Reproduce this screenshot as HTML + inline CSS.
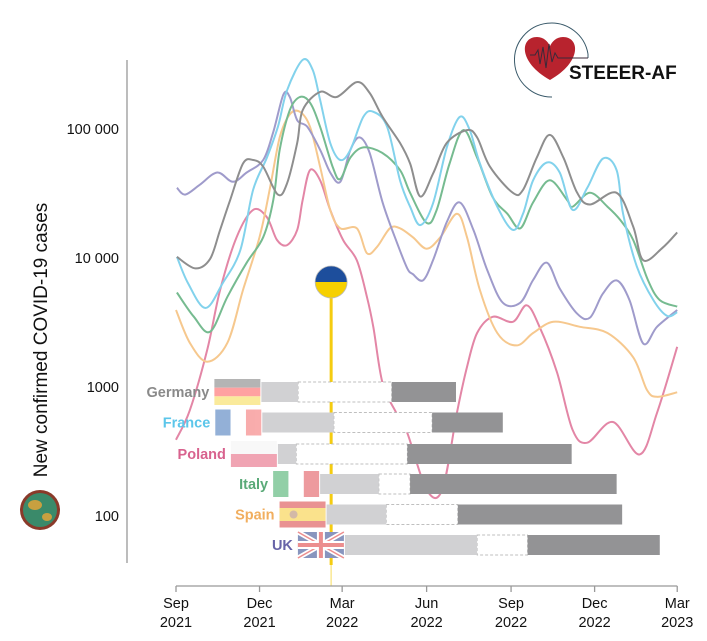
<!DOCTYPE html>
<html><head><meta charset="utf-8">
<style>
html,body{margin:0;padding:0;background:#fff;}
svg{display:block;font-family:"Liberation Sans",Arial,sans-serif;}
</style></head>
<body>
<svg id="chart" width="707" height="641" viewBox="0 0 707 641" xmlns="http://www.w3.org/2000/svg">
  <g id="lines"></g>
  <g id="ukr"></g>
  <g id="bars"></g>
  <g id="axes"></g>
  <text transform="translate(47,340) rotate(-90)" text-anchor="middle" font-size="19" fill="#111">New confirmed COVID-19 cases</text>
  <g>
    <path d="M 588 54 A 37 37 0 1 0 552 97" fill="none" stroke="#3a5a6a" stroke-width="1"/>
    <line x1="588" y1="54" x2="588" y2="58" stroke="#3a5a6a" stroke-width="1"/>
    <path d="M 550 80 C 518 62 520 37 537 37 C 544 37 548 42 550 46 C 552 42 556 37 563 37 C 580 37 582 62 550 80 Z" fill="#b8232e"/>
    <polyline points="530,55 535,55 538,50 540,64 543,47 546,68 549,44 552,62 555,53 558,58 572,58 588,58" fill="none" stroke="#3a2a3a" stroke-width="1"/>
    <text x="569" y="79" font-size="19" font-weight="bold" fill="#111">STEEER-AF</text>
  </g>
  <g>
    <circle cx="40" cy="510" r="20" fill="#8a3a2a"/>
    <circle cx="40" cy="510" r="17" fill="#3a8a6a"/>
    <ellipse cx="35" cy="505" rx="7" ry="5" fill="#c8a040"/>
    <ellipse cx="47" cy="517" rx="5" ry="4" fill="#c8a040"/>
  </g>
</svg>
<script>
const NS="http://www.w3.org/2000/svg";
const tickLabels=[["Sep","2021"],["Dec","2021"],["Mar","2022"],["Jun","2022"],["Sep","2022"],["Dec","2022"],["Mar","2023"]];
const tickDays=[0,91,181,273,365,456,546];
const yTicks=[100,1000,10000,100000];
const yTickLabels=["100","1000","10 000","100 000"];
const names=["Poland","Spain","UK","Italy","France","Germany"];
const colors=["#e386a6","#f6c88e","#9f9bcb","#76bb90","#82d2ec","#8e8e8e"];
const polandDays=[0,15,34,48,66,84,99,110,121,132,138,146,157,168,182,197,208,215,225,240,252,273,290,306,317,328,345,367,382,396,415,432,448,476,505,524,546];
const polandVals=[390,660,1940,5650,14500,23600,20700,13800,12600,16500,28200,48000,40000,23600,13800,9600,5000,2900,1070,630,440,160,160,630,1430,2620,3500,3200,4300,2930,1300,465,370,535,300,630,2050];
const spainDays=[0,15,34,56,73,91,102,113,124,135,146,157,168,179,197,208,219,233,244,258,273,288,306,317,331,350,371,389,411,440,470,498,513,524,546];
const spainVals=[3950,2200,1570,2200,5650,14500,33700,86000,130000,136000,104000,51000,23600,17000,17000,10900,12200,17000,17000,14500,11800,14500,22000,14500,5650,2620,2100,2620,3200,2930,2620,1700,950,840,910];
const ukDays=[1,10,26,45,62,77,95,106,117,124,132,143,157,168,179,190,200,211,225,241,252,258,269,280,295,309,324,339,356,375,389,404,418,437,451,465,480,494,509,524,546];
const ukVals=[35000,31000,37000,46000,39000,46000,57500,95000,185000,177000,117000,104000,69000,46000,39000,69000,86000,65000,27000,13000,8300,7500,6700,9600,19000,27000,16500,8070,4500,4500,6750,9200,5800,3700,3450,5300,6700,4720,2170,2930,3950];
const italyDays=[1,19,37,56,77,95,106,113,124,135,146,157,171,179,190,204,225,244,255,273,284,298,313,328,345,361,375,389,407,426,432,451,470,484,498,514,527,546];
const italyVals=[5400,3540,2680,5000,9200,14500,28200,69000,140000,177000,160000,104000,50000,41000,60000,72000,65000,48000,32000,18700,23600,54000,98000,60000,29600,22000,17000,27000,40000,28200,25000,32000,25000,19700,13800,6750,4720,4200];
const franceDays=[1,13,32,51,70,84,99,111,121,138,149,157,168,179,190,204,215,230,244,255,266,280,295,309,320,331,350,367,378,389,404,418,432,448,465,480,487,502,520,535,546];
const franceVals=[10200,6400,4100,6400,11500,33700,60000,104000,200000,343000,286000,168000,78000,57500,69000,124000,136000,104000,40000,25000,18000,26500,72000,124000,98000,54000,25000,16500,22000,40000,55000,46000,23600,35000,59000,48000,22000,8600,4720,3560,3800];
const germanyDays=[1,21,37,48,59,73,84,95,111,121,132,138,157,175,197,211,225,244,255,266,280,295,317,328,342,367,378,393,407,422,437,451,480,498,509,530,546];
const germanyVals=[10200,8300,9800,16500,28200,54000,57500,51000,31000,38000,78000,140000,194000,177000,231000,190000,124000,78000,54000,30000,45000,78000,98000,86000,51000,32000,33700,60000,90000,60000,32000,26000,32000,17500,9600,12000,15800];
const seriesDays=[polandDays,spainDays,ukDays,italyDays,franceDays,germanyDays];
const seriesVals=[polandVals,spainVals,ukVals,italyVals,franceVals,germanyVals];
const barCountries=["Germany","France","Poland","Italy","Spain","UK"];
const barLabelColors=["#8a8a8a","#5cc6ea","#d8628e","#5aaa78","#f1ae5e","#6864a8"];
const lightStart=[93,94,111,157,164,184];
const lightEnd=[133,172,131,221,229,328];
const darkStart=[235,279,252,255,307,383];
const darkEnd=[305,356,431,480,486,527];
const invasionDay=169;

const x=d=>176+d*0.918;
const y=v=>774-129*Math.log10(v);
function el(tag,attrs,parent){const e=document.createElementNS(NS,tag);for(const k in attrs)e.setAttribute(k,attrs[k]);parent.appendChild(e);return e;}
function smooth(pts){let d="M"+pts[0][0].toFixed(1)+","+pts[0][1].toFixed(1);
 for(let i=0;i<pts.length-1;i++){const p0=pts[Math.max(0,i-1)],p1=pts[i],p2=pts[i+1],p3=pts[Math.min(pts.length-1,i+2)];
 const c1=[p1[0]+(p2[0]-p0[0])/6,p1[1]+(p2[1]-p0[1])/6],c2=[p2[0]-(p3[0]-p1[0])/6,p2[1]-(p3[1]-p1[1])/6];
 d+=" C"+c1.map(n=>n.toFixed(1))+" "+c2.map(n=>n.toFixed(1))+" "+p2.map(n=>n.toFixed(1));}return d;}

const lines=document.getElementById('lines');
names.forEach((n,i)=>{
 const pts=seriesDays[i].map((d,j)=>[x(d),y(seriesVals[i][j])]);
 const p=el('path',{d:smooth(pts),fill:'none',stroke:colors[i],'stroke-width':2},lines);
 
 
});

const ukr=document.getElementById('ukr');
const xi=x(invasionDay);
el('line',{x1:xi,x2:xi,y1:296,y2:586,stroke:'#f7d84a','stroke-width':1.5,opacity:0.6},ukr);
el('line',{x1:xi,x2:xi,y1:296,y2:565,stroke:'#f5cc10','stroke-width':3},ukr);
el('path',{d:`M${xi-16},282 A16,16 0 0 1 ${xi+16},282 Z`,fill:'#1d4e9c'},ukr);
el('path',{d:`M${xi-16},282 A16,16 0 0 0 ${xi+16},282 Z`,fill:'#f6d000'},ukr);
el('circle',{cx:xi,cy:282,r:16,fill:'none',stroke:'#bbb','stroke-width':0.8},ukr);

const bars=document.getElementById('bars');
const rowY=[392,422.5,454,484,514.5,545];
const flagW=46,flagH=26;
function flag(c,fx,fy,g){
 el('rect',{x:fx,y:fy,width:flagW,height:flagH,fill:'#fff'},g);
 const f=el('g',{opacity:0.55},g);
 if(c==="Germany"){el('rect',{x:fx,y:fy,width:flagW,height:flagH/3,fill:'#777'},f);el('rect',{x:fx,y:fy+flagH/3,width:flagW,height:flagH/3,fill:'#f55'},f);el('rect',{x:fx,y:fy+2*flagH/3,width:flagW,height:flagH/3,fill:'#f7d94a'},f);}
 else if(c==="France"){el('rect',{x:fx,y:fy,width:flagW/3,height:flagH,fill:'#3c70b8'},f);el('rect',{x:fx+flagW/3,y:fy,width:flagW/3,height:flagH,fill:'#fff'},f);el('rect',{x:fx+2*flagW/3,y:fy,width:flagW/3,height:flagH,fill:'#f46a6a'},f);}
 else if(c==="Poland"){el('rect',{x:fx,y:fy,width:flagW,height:flagH/2,fill:'#f4f4f4'},f);el('rect',{x:fx,y:fy+flagH/2,width:flagW,height:flagH/2,fill:'#e45a76'},f);}
 else if(c==="Italy"){el('rect',{x:fx,y:fy,width:flagW/3,height:flagH,fill:'#3aa860'},f);el('rect',{x:fx+flagW/3,y:fy,width:flagW/3,height:flagH,fill:'#fff'},f);el('rect',{x:fx+2*flagW/3,y:fy,width:flagW/3,height:flagH,fill:'#e04850'},f);}
 else if(c==="Spain"){el('rect',{x:fx,y:fy,width:flagW,height:flagH,fill:'#d83a3a'},f);el('rect',{x:fx,y:fy+flagH/4,width:flagW,height:flagH/2,fill:'#f6cc30'},f);el('circle',{cx:fx+14,cy:fy+flagH/2,r:4,fill:'#b08060'},f);}
 else {el('rect',{x:fx,y:fy,width:flagW,height:flagH,fill:'#28408a'},f);el('path',{d:`M${fx},${fy}L${fx+flagW},${fy+flagH}M${fx+flagW},${fy}L${fx},${fy+flagH}`,stroke:'#fff','stroke-width':5},f);el('path',{d:`M${fx},${fy}L${fx+flagW},${fy+flagH}M${fx+flagW},${fy}L${fx},${fy+flagH}`,stroke:'#d33','stroke-width':1.5},f);el('path',{d:`M${fx+flagW/2},${fy}V${fy+flagH}M${fx},${fy+flagH/2}H${fx+flagW}`,stroke:'#fff','stroke-width':8},f);el('path',{d:`M${fx+flagW/2},${fy}V${fy+flagH}M${fx},${fy+flagH/2}H${fx+flagW}`,stroke:'#d33','stroke-width':4},f);}
}
barCountries.forEach((c,i)=>{
 const g=el('g',{},bars);
 
 
 const cy=rowY[i],x0=x(lightStart[i]);
 flag(c,x0-flagW-1,cy-flagH/2,g);
 const t=el('text',{x:x0-flagW-6,y:cy+5,'text-anchor':'end','font-size':14.5,'font-weight':'bold',fill:barLabelColors[i]},g);
 t.textContent=c;
 
 
 el('rect',{x:x(lightEnd[i]),y:cy-10,width:x(darkStart[i])-x(lightEnd[i]),height:20,fill:'#fff',stroke:'#aaa','stroke-width':0.8,'stroke-dasharray':'3,2'},g);
 const l=el('rect',{x:x0,y:cy-10,width:x(lightEnd[i])-x0,height:20,fill:'#d1d1d3'},g);
 
 
 const d=el('rect',{x:x(darkStart[i]),y:cy-10,width:x(darkEnd[i])-x(darkStart[i]),height:20,fill:'#939395'},g);
 
 
});

const axes=document.getElementById('axes');
el('line',{x1:127,x2:127,y1:60,y2:563,stroke:'#999','stroke-width':1.3},axes);
yTicks.forEach((v,i)=>{const t=el('text',{x:119,y:y(v)+5,'text-anchor':'end','font-size':14.5,fill:'#111'},axes);t.textContent=yTickLabels[i];
 
 });
el('line',{x1:x(0),x2:x(546),y1:586,y2:586,stroke:'#999','stroke-width':1.3},axes);
tickDays.forEach((d,i)=>{el('line',{x1:x(d),x2:x(d),y1:586,y2:592,stroke:'#999','stroke-width':1.3},axes);
 const t=el('text',{x:x(d),y:608,'text-anchor':'middle','font-size':14.5,fill:'#111'},axes);
 
 
 el('tspan',{x:x(d),dy:0},t).textContent=tickLabels[i][0];
 el('tspan',{x:x(d),dy:19},t).textContent=tickLabels[i][1];});
</script>
</body></html>
